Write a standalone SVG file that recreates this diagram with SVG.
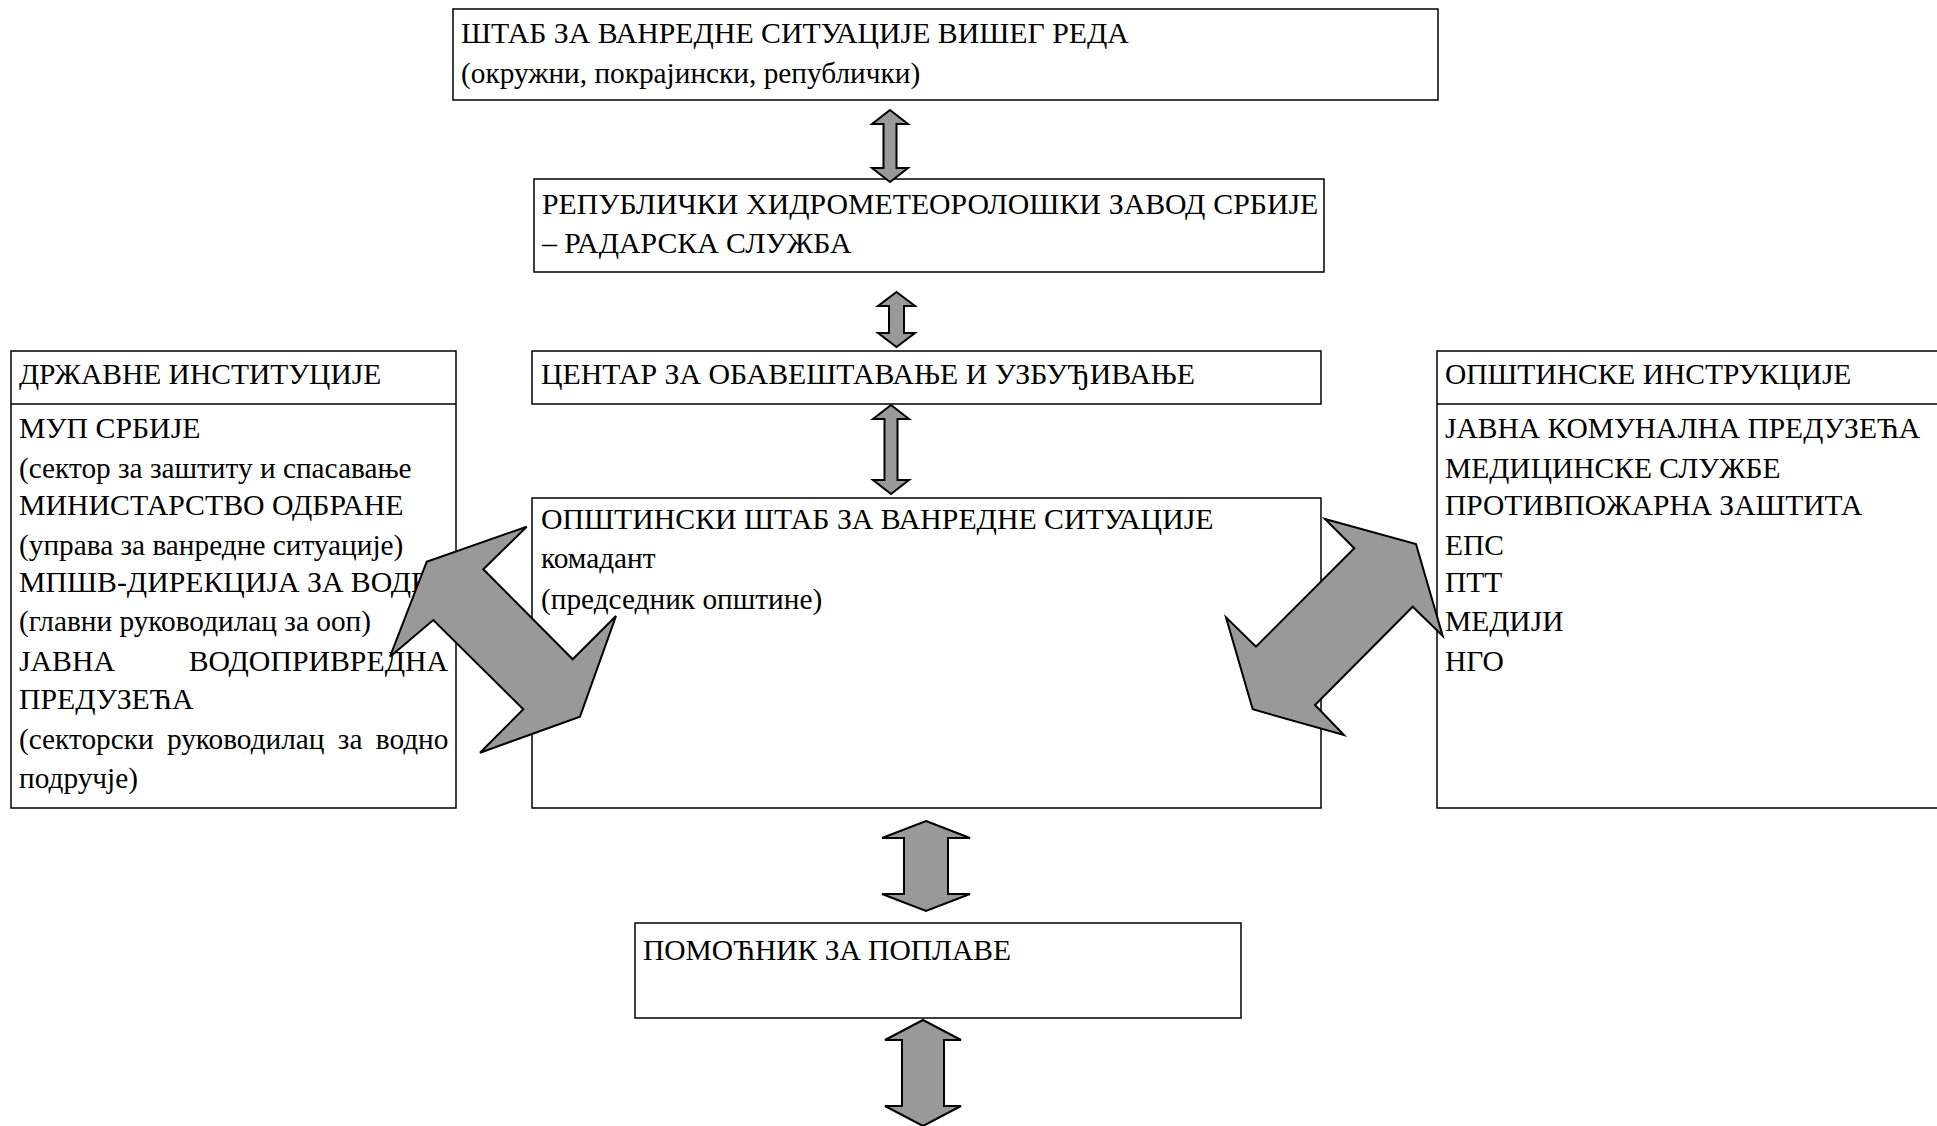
<svg xmlns="http://www.w3.org/2000/svg" width="1937" height="1126" viewBox="0 0 1937 1126">
<style>
  .box { fill: #ffffff; stroke: #000000; stroke-width: 1.5; }
  .ln { stroke: #000000; stroke-width: 1.5; fill: none; }
  text { font-family: "Liberation Serif", "Times New Roman", "DejaVu Serif", serif; font-size: 29.8px; fill: #000000; }
  text.lc { font-size: 29.3px; }
  text.rc { font-size: 29.5px; }
  .arr { fill: #999999; stroke: #000000; stroke-width: 2; stroke-linejoin: miter; }
</style>
<rect x="0" y="0" width="1937" height="1126" fill="#ffffff"/>

<g id="node-stab-visi">
  <rect class="box" x="453" y="9" width="985" height="91"/>
  <text x="461" y="43">ШТАБ ЗА ВАНРЕДНЕ СИТУАЦИЈЕ ВИШЕГ РЕДА</text>
  <text class="lc" x="461" y="83">(окружни, покрајински, републички)</text>
</g>

<g id="node-rhmz">
  <rect class="box" x="534" y="179" width="790" height="93"/>
  <text x="542" y="214" word-spacing="0.5">РЕПУБЛИЧКИ ХИДРОМЕТЕОРОЛОШКИ ЗАВОД СРБИЈЕ</text>
  <text x="542" y="253">– РАДАРСКА СЛУЖБА</text>
</g>

<g id="node-centar">
  <rect class="box" x="532" y="351" width="789" height="53"/>
  <text x="541" y="384">ЦЕНТАР ЗА ОБАВЕШТАВАЊЕ И УЗБУЂИВАЊЕ</text>
</g>

<g id="node-opstinski-stab">
  <rect class="box" x="532" y="498" width="789" height="310"/>
  <text x="541" y="529">ОПШТИНСКИ ШТАБ ЗА ВАНРЕДНЕ СИТУАЦИЈЕ</text>
  <text class="lc" x="541" y="568">комадант</text>
  <text class="lc" x="541" y="609">(председник општине)</text>
</g>

<g id="node-pomocnik">
  <rect class="box" x="635" y="923" width="606" height="95"/>
  <text class="rc" x="643" y="960">ПОМОЋНИК ЗА ПОПЛАВЕ</text>
</g>

<g id="node-drzavne">
  <rect class="box" x="11" y="351" width="445" height="457"/>
  <line class="ln" x1="11" y1="404" x2="456" y2="404"/>
  <text class="rc" x="19" y="384">ДРЖАВНЕ ИНСТИТУЦИЈЕ</text>
  <text x="19" y="438">МУП СРБИЈЕ</text>
  <text class="lc" x="19" y="478">(сектор за заштиту и спасавање</text>
  <text x="19" y="515">МИНИСТАРСТВО ОДБРАНЕ</text>
  <text class="lc" x="19" y="555">(управа за ванредне ситуације)</text>
  <text x="19" y="592">МПШВ-ДИРЕКЦИЈА ЗА ВОДЕ</text>
  <text class="lc" x="19" y="631">(главни руководилац за ооп)</text>
  <text x="19" y="671">ЈАВНА</text>
  <text x="448" y="671" text-anchor="end">ВОДОПРИВРЕДНА</text>
  <text x="19" y="709">ПРЕДУЗЕЋА</text>
  <text class="lc" x="19" y="749" word-spacing="6">(секторски руководилац за водно</text>
  <text class="lc" x="19" y="788">подручје)</text>
</g>

<g id="node-opstinske">
  <rect class="box" x="1437" y="351" width="520" height="457"/>
  <line class="ln" x1="1437" y1="404" x2="1957" y2="404"/>
  <text class="rc" x="1445" y="384">ОПШТИНСКЕ ИНСТРУКЦИЈЕ</text>
  <text class="rc" x="1445" y="438">ЈАВНА КОМУНАЛНА ПРЕДУЗЕЋА</text>
  <text class="rc" x="1445" y="478">МЕДИЦИНСКЕ СЛУЖБЕ</text>
  <text class="rc" x="1445" y="515">ПРОТИВПОЖАРНА ЗАШТИТА</text>
  <text class="rc" x="1445" y="555">ЕПС</text>
  <text class="rc" x="1445" y="592">ПТТ</text>
  <text class="rc" x="1445" y="631">МЕДИЈИ</text>
  <text class="rc" x="1445" y="671">НГО</text>
</g>

<g id="connectors">
  <!-- vertical double arrows -->
  <polygon class="arr" points="890,110 908,124 896.5,124 896.5,168 908,168 890,182 872,168 883.5,168 883.5,124 872,124"/>
  <polygon class="arr" points="896.5,292 915,306 904,306 904,333 915,333 896.5,347 878,333 889,333 889,306 878,306"/>
  <polygon class="arr" points="891,405 909,419 897.5,419 897.5,480 909,480 891,494 873,480 884.5,480 884.5,419 873,419"/>
  <polygon class="arr" points="926,821 970,838 948,838 948,894 970,894 926,911 882,894 904,894 904,838 882,838"/>
  <polygon class="arr" points="923,1020 961,1040 944,1040 944,1106 961,1106 923,1126 885,1106 902,1106 902,1040 885,1040"/>
  <!-- diagonal double arrows -->
  <polygon class="arr" points="426.7,561.7 526.7,526.7 483.3,569.3 572.7,659.3 616,616 580,716.7 480,752.7 523.3,709.3 433.3,620 390,656.7"/>
  <polygon class="arr" points="1416,544 1442.7,636 1412.7,606.7 1315,705 1344,735 1252.7,709.3 1226,617.3 1256,646.7 1354.3,548.3 1325,519"/>
</g>
</svg>
